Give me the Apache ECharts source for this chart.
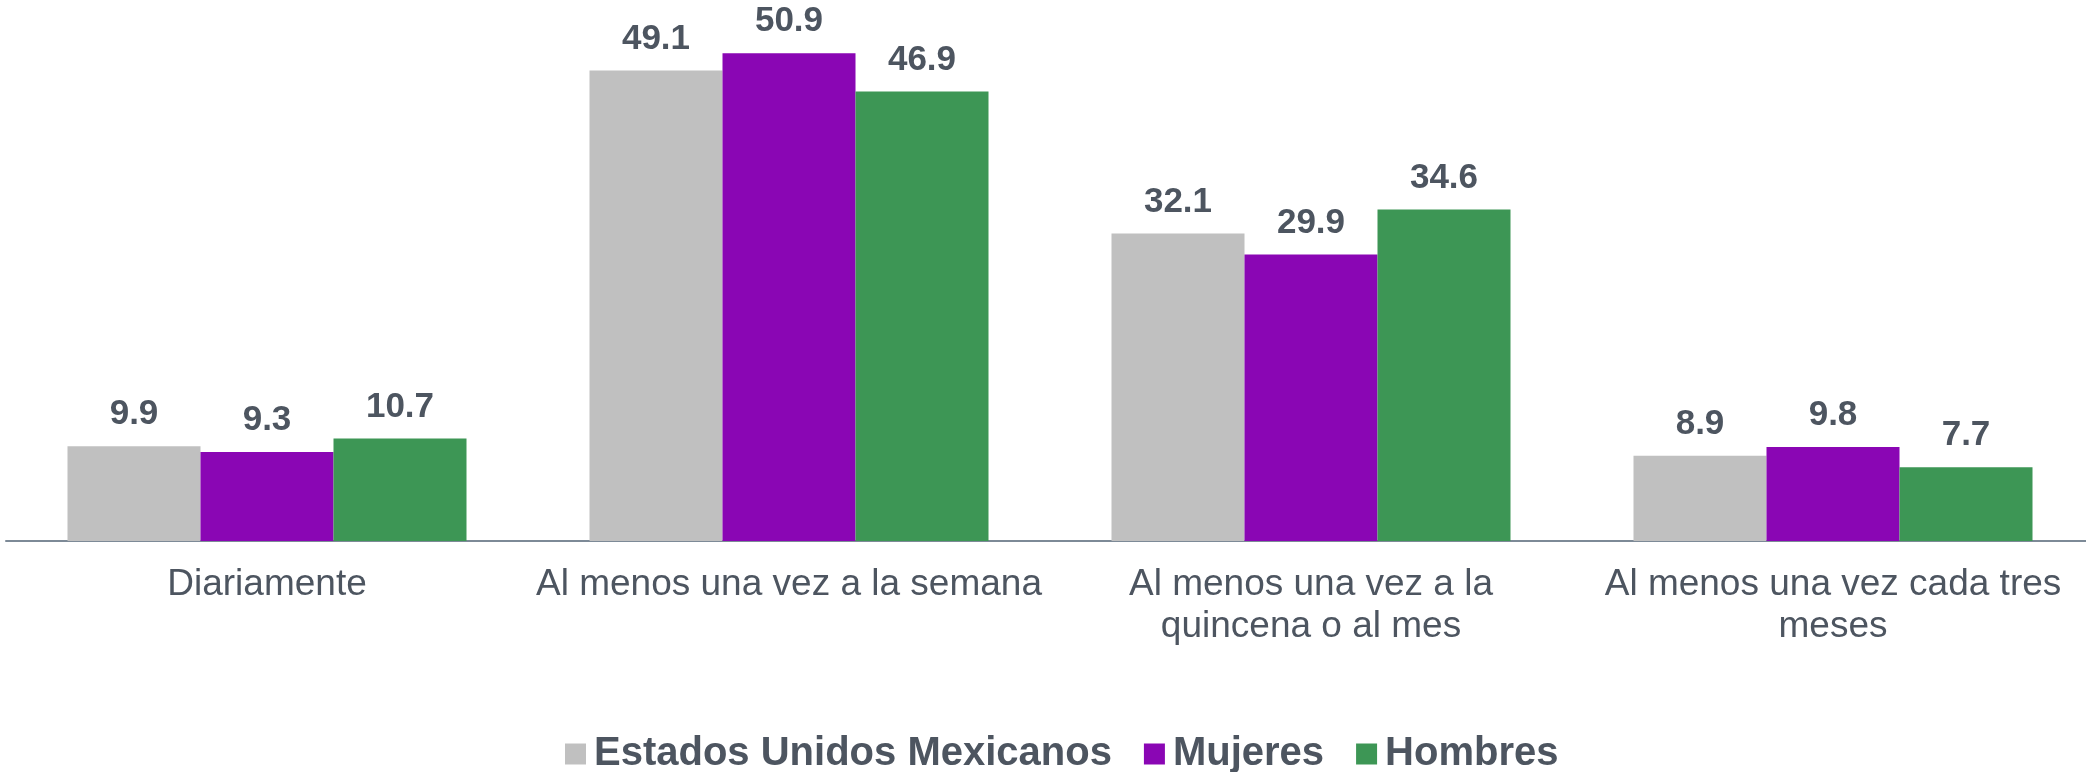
<!DOCTYPE html>
<html>
<head>
<meta charset="utf-8">
<script src="https://cdn.jsdelivr.net/npm/echarts@6/dist/echarts.min.js"></script>
<style>
html,body{margin:0;padding:0;background:#fff;overflow:hidden;width:2086px;height:772px;}
#chart{width:2094px;height:772px;}
</style>
</head>
<body>
<div id="chart"></div>
<script>
var categories = ["Diariamente", "Al menos una vez a la semana", "Al menos una vez a la\nquincena o al mes", "Al menos una vez cada tres\nmeses"];
var seriesNames = ["Estados Unidos Mexicanos", "Mujeres", "Hombres"];
var eumValues = [9.9, 49.1, 32.1, 8.9];
var mujeresValues = [9.3, 50.9, 29.9, 9.8];
var hombresValues = [10.7, 46.9, 34.6, 7.7];
var colors = ["#c0c0c0", "#8a06b4", "#3d9655"];

var FONT = "Arial, 'Liberation Sans', sans-serif";
var TEXT = "#4d5560";

function mk(name, data, color) {
  return {
    name: name,
    type: "bar",
    data: data,
    barWidth: 133,
    barGap: "0%",
    itemStyle: { color: color },
    label: {
      show: true,
      position: "top",
      distance: 14,
      color: TEXT,
      fontFamily: FONT,
      fontWeight: "bold",
      fontSize: 35,
      formatter: function (p) { return p.value.toFixed(1); }
    }
  };
}

var chart = echarts.init(document.getElementById("chart"), null, { renderer: "canvas" });
chart.setOption({
  animation: false,
  backgroundColor: "#ffffff",
  textStyle: { fontFamily: FONT },
  grid: { left: 6, right: 0, top: 14, height: 527, containLabel: false },
  legend: {
    data: seriesNames,
    left: 560,
    top: 729,
    itemWidth: 21,
    itemHeight: 21,
    itemGap: 32,
    textStyle: { color: TEXT, fontFamily: FONT, fontWeight: "bold", fontSize: 40, padding: [0, 0, 0, 3] },
    icon: "rect"
  },
  xAxis: {
    type: "category",
    data: categories,
    axisTick: { show: false },
    axisLine: { lineStyle: { color: "#7d8a97", width: 2 } },
    axisLabel: {
      color: TEXT,
      fontFamily: FONT,
      fontSize: 37,
      lineHeight: 42,
      margin: 23,
      interval: 0
    }
  },
  yAxis: {
    type: "value",
    min: 0,
    max: 55,
    show: false,
    splitLine: { show: false }
  },
  series: [
    mk(seriesNames[0], eumValues, colors[0]),
    mk(seriesNames[1], mujeresValues, colors[1]),
    mk(seriesNames[2], hombresValues, colors[2])
  ]
});
</script>
</body>
</html>
